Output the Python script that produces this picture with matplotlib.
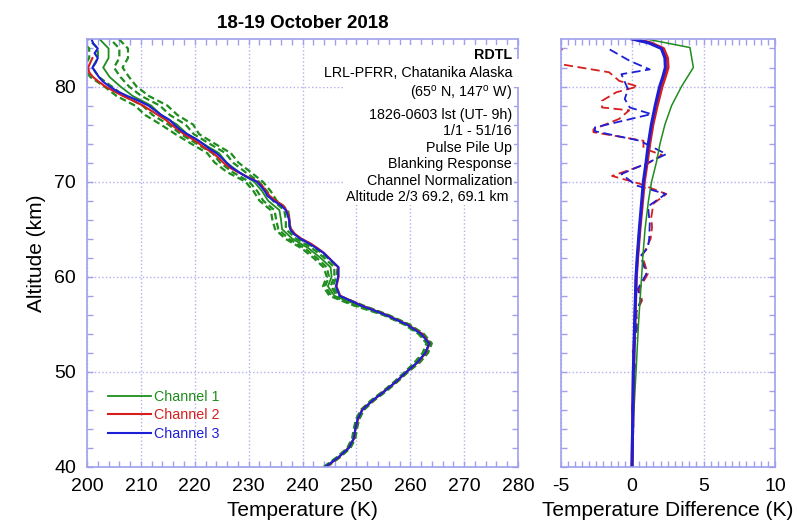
import numpy as np
import matplotlib
matplotlib.use("Agg")
import matplotlib.pyplot as plt
from matplotlib.ticker import MultipleLocator
from matplotlib.patches import Rectangle

plt.rcParams['font.family'] = ['Liberation Sans', 'DejaVu Sans']
plt.rcParams['mathtext.fontset'] = 'custom'
plt.rcParams['mathtext.rm'] = 'Liberation Sans'
plt.rcParams['axes.unicode_minus'] = False

NAN = float('nan')

# ---- left panel: temperature profiles (K) ----
alt = [40, 41, 42, 43, 44, 45, 46, 47, 48, 49, 50, 51, 52, 53, 54, 55, 56, 57, 58, 59, 60, 61, 62,
       62.5, 63, 63.5, 64, 64.5, 65, 65.5, 66, 66.5, 67, 67.5, 68, 68.5, 69, 69.5, 70, 70.5, 71,
       71.5, 72, 72.5, 73, 73.5, 74, 74.5, 75, 75.5, 76, 76.5, 77, 77.5, 78, 78.5, 79, 79.5, 80,
       80.5, 81, 81.5, 82, 82.5, 83, 83.5, 84, 84.5, 85]
t_ch3 = [244.2, 246.6, 248.6, 249.5, 249.8, 250.2, 251.1, 253.0, 255.3, 257.4, 259.3, 261.3, 262.8,
         263.5, 262.0, 259.3, 255.4, 250.8, 246.9, 246.2, 246.6, 246.7, 244.8,
         243.9, 242.6, 241.2, 239.6, 238.4, 237.7, 237.6, 237.5, 237.2, 236.9, 236.0, 234.6, 233.5,
         233.0, 232.3, 231.5, 229.6, 228.2, 226.8, 225.9, 225.0, 224.0, 222.6, 221.5, 220.2, 218.6,
         217.2, 216.2, 215.3, 213.8, 212.6, 211.4, 209.6, 207.5, 205.6, 204.2, 203.0, 202.2, 201.6,
         201.0, 201.6, 202.0, 201.4, 202.0, 201.2, 200.8]
t_ch2 = [244.3, 246.7, 248.5, 249.6, 249.8, 250.3, 251.0, 253.1, 255.2, 257.5, 259.3, 261.4, 262.9,
         263.6, 262.2, 259.4, 255.5, 250.9, 247.0, 246.3, 246.7, 246.6, 244.9,
         244.0, 242.8, 241.5, 239.8, 238.6, 237.9, 237.6, 237.6, 237.4, 237.0, 236.4, 235.0, 233.9,
         233.2, 232.6, 231.6, 229.8, 228.0, 226.4, 225.3, 224.4, 223.4, 222.0, 220.8, 219.5, 218.0,
         216.8, 215.6, 214.6, 213.2, 211.8, 210.4, 208.6, 206.7, 205.0, 203.4, 202.2, 201.1, 200.4,
         200.2, 200.6, 201.0, NAN, NAN, NAN, NAN]

alt1 = list(range(40, 86))
t_ch1 = [244.2, 246.6, 248.6, 249.5, 249.8, 250.2, 251.1, 253.0, 255.3, 257.4, 259.3, 261.3, 262.8,
         263.5, 262.0, 259.3, 255.4, 250.3, 245.9, 244.7, 245.4, 245.2, 243.3, 241.1, 238.1, 236.2,
         236.0, 235.7, 233.6, 232.5, 231.0, 228.2, 225.9, 224.5, 221.5, 218.6, 216.7, 213.8, 211.9,
         208.5, 206.2, 204.2, 203.0, 204.0, 204.0, 202.3]
err_in = [0.2] * 11 + [0.3] * 6 + [0.5] * 4 + [0.7] * 5 + [0.9] * 5 + [1.2] * 5 + [1.6] * 5 + [2.0] * 5
err_out = [0.3] * 11 + [0.5] * 6 + [0.9] * 4 + [1.3] * 5 + [1.6] * 5 + [2.2] * 5 + [3.0] * 5 + [3.6] * 5

# ---- right panel: uncertainties and differences (K) ----
alt_err = [40, 45, 50, 55, 60, 62, 65, 68, 70, 72, 74, 76, 78, 80, 81, 82, 83, 84, 84.6, 85]
err_ch3 = [0.0, 0.05, 0.09, 0.18, 0.28, 0.36, 0.51, 0.68, 0.79, 0.98, 1.14, 1.35, 1.62, 1.93, 2.15,
           2.33, 2.30, 2.05, 1.14, 0.0]
err_ch2 = [0.0, 0.05, 0.10, 0.20, 0.30, 0.39, 0.55, 0.74, 0.86, 1.06, 1.24, 1.46, 1.76, 2.10, 2.32,
           2.52, 2.48, 2.20, 1.30, 0.1]
alt_err1 = [40, 45, 50, 55, 60, 62, 65, 68, 70, 72, 74, 76, 78, 80, 82, 84.1, 85]
err_ch1 = [0.03, 0.10, 0.28, 0.45, 0.67, 0.75, 0.91, 1.15, 1.37, 1.70, 1.96, 2.30, 2.77, 3.46, 4.29,
           4.05, 1.0]

alt_d2 = [84.6, 83.9, 83.2, 82.3, 81.5, 80.6, 80.0, 79.4, 78.5, 77.8, 77.5, 76.6, 75.5, 75.2, 74.3,
          73.5, 72.8, 71.9, 70.6, 69.8, 68.7, 67.7, 66.3, 65.2, 64.0, 63.0, 62.2, 61.3, 60.3, 58.7,
          57.5, 56.3, 54.5, 53.0, 52.2, 51.0, 48.0, 46.1, 44.0, 42.3, 40.0]
diff_2 = [-7.0, -4.9, -7.0, -4.8, -1.6, -0.9, 0.4, -1.1, -2.1, -2.1, -0.2, -0.9, -2.7, -2.7, 0.8,
          0.8, 2.1, 1.1, -1.4, 0.5, 2.4, 1.5, 1.35, 1.4, 1.3, 1.0, 0.7, 0.9, 1.1, 0.5,
          0.7, 0.3, 0.3, 0.2, 0.1, 0.2, 0.1, 0.05, 0.1, 0.0, 0.0]
alt_d3 = [83.9, 82.7, 81.8, 81.3, 79.7, 78.7, 77.8, 77.1, 75.7, 75.3, 74.3, 72.9, 72.0, 70.8, 69.6,
          68.7, 67.4, 65.6, 64.0, 63.0, 62.2, 61.3, 60.3, 58.7, 57.5, 56.3, 54.5, 52.2, 51.0, 48.0,
          46.1, 44.0, 42.3, 40.0]
diff_3 = [-1.56, -0.16, 1.24, -0.74, -0.28, -0.51, -0.16, 1.35, -2.6, -2.6, 0.54, 2.4, 1.12, -0.74,
          0.3, 2.35, 1.12, 1.24, 1.2, 1.1, 0.6, 0.8, 1.0, 0.4, 0.6, 0.3, 0.35, 0.05, 0.2, 0.1,
          0.0, 0.1, 0.0, 0.0]

GREEN = '#1e8c1e'
RED = '#d61e1e'
BLUE = '#1e1ed6'
FRAME = '#a0a0ee'
GRID = '#b0b0f0'

fig = plt.figure(figsize=(7.97, 5.24), dpi=100)
ax1 = fig.add_axes([0.1092, 0.1088, 0.5408, 0.8168])
ax2 = fig.add_axes([0.7033, 0.1088, 0.2691, 0.8168])


def style(ax):
    for s in ax.spines.values():
        s.set_color(FRAME)
        s.set_linewidth(1.2)
    ax.tick_params(which='both', direction='in', top=True, right=True, color=FRAME,
                   labelsize=14, pad=8, length=4.5, width=1)
    ax.yaxis.set_minor_locator(MultipleLocator(2))
    ax.grid(True, which='major', color=GRID, linestyle=':', linewidth=1.0)


# left panel
t1 = np.array(t_ch1)
for e in (err_in, err_out):
    e = np.array(e)
    ax1.plot(t1 - e, alt1, color=GREEN, ls=(0, (3, 1.6)), lw=1.6)
    ax1.plot(t1 + e, alt1, color=GREEN, ls=(0, (3, 1.6)), lw=1.6)
ax1.plot(t_ch1, alt1, color=GREEN, lw=1.3, label='Channel 1')
ax1.plot(t_ch2, alt, color=RED, lw=1.5, label='Channel 2')
ax1.plot(t_ch3, alt, color=BLUE, lw=1.5, label='Channel 3')
ax1.set_xlim(200, 280)
ax1.set_ylim(40, 85)
ax1.xaxis.set_major_locator(MultipleLocator(10))
ax1.xaxis.set_minor_locator(MultipleLocator(2))
ax1.yaxis.set_major_locator(MultipleLocator(10))
style(ax1)
ax1.set_xlabel('Temperature (K)', fontsize=15, labelpad=4)
ax1.set_ylabel('Altitude (km)', fontsize=15, labelpad=6)
ax1.set_title('18-19 October 2018', fontsize=13.5, fontweight='bold', pad=8)

leg = ax1.legend(loc='upper left', bbox_to_anchor=(0.048, 0.18), frameon=False, fontsize=10.3,
                 handlelength=3.0, handletextpad=0.25, labelspacing=0.3, borderpad=0,
                 borderaxespad=0, labelcolor='linecolor')

ax1.add_patch(Rectangle((0.594, 0.612), 0.396, 0.373, transform=ax1.transAxes,
                        facecolor='white', edgecolor='none', zorder=2))
notes = [
    ('RDTL', 0.962, 0.986, 'bold'),
    ('LRL-PFRR, Chatanika Alaska', 0.920, 0.986, 'normal'),
    (r'(65$^{\rm o}$ N, 147$^{\rm o}$ W)', 0.873, 0.986, 'normal'),
    ('1826-0603 lst (UT- 9h)', 0.822, 0.986, 'normal'),
    ('1/1 - 51/16', 0.785, 0.986, 'normal'),
    ('Pulse Pile Up', 0.746, 0.986, 'normal'),
    ('Blanking Response', 0.707, 0.986, 'normal'),
    ('Channel Normalization', 0.669, 0.986, 'normal'),
    ('Altitude 2/3 69.2, 69.1 km', 0.631, 0.977, 'normal'),
]
for txt, yy, xx, w in notes:
    kw = {}
    if txt.startswith('LRL'):
        kw['bbox'] = dict(facecolor='white', edgecolor='none', pad=5)
    ax1.text(xx, yy, txt, transform=ax1.transAxes, ha='right', va='center', fontsize=10.3,
             fontweight=w, zorder=3, **kw)

# right panel
ax2.plot(diff_2, alt_d2, color=RED, ls=(0, (5, 2.5)), lw=1.3)
ax2.plot(diff_3, alt_d3, color=BLUE, ls=(0, (5, 2.5)), lw=1.3)
ax2.plot(err_ch1, alt_err1, color=GREEN, lw=1.1)
ax2.plot(err_ch2, alt_err, color=RED, lw=2.2)
ax2.plot(err_ch3, alt_err, color=BLUE, lw=2.2)
ax2.set_xlim(-5, 10)
ax2.set_ylim(40, 85)
ax2.xaxis.set_major_locator(MultipleLocator(5))
ax2.xaxis.set_minor_locator(MultipleLocator(0.5))
ax2.yaxis.set_major_locator(MultipleLocator(10))
style(ax2)
ax2.set_yticklabels([])
ax2.set_xlabel('Temperature Difference (K)', fontsize=15, labelpad=4)

fig.savefig('out.png', dpi=100)
